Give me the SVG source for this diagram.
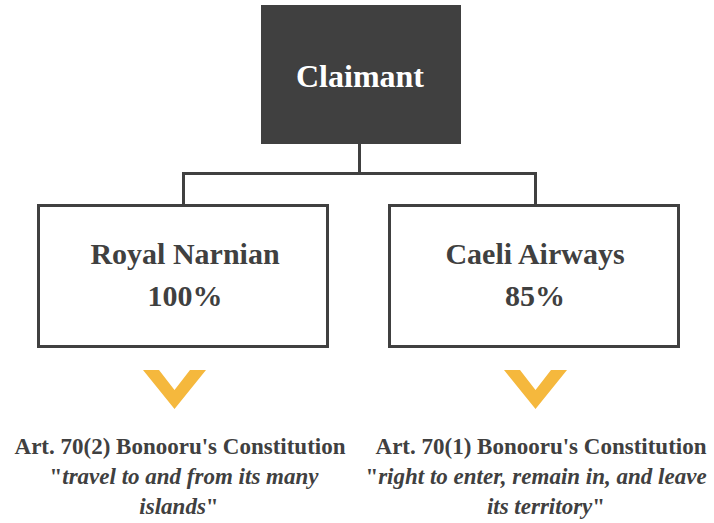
<svg xmlns="http://www.w3.org/2000/svg" width="714" height="523" viewBox="0 0 714 523">
<style>
.box{fill:#fff;stroke:#404040;stroke-width:3}
.conn{fill:none;stroke:#404040;stroke-width:3}
.t{font-family:"Liberation Serif","Times New Roman",serif;font-weight:bold;fill:#404040;text-anchor:middle}
.big{font-size:30px}
.small{font-size:23px}
.it{font-style:italic}
.chev{fill:#F5B83D}
</style>
<rect width="714" height="523" fill="#fff"/>
<g id="connectors">
<path class="conn" d="M359.5 144V173.5M183.5 204V173.5H535.5V204"/>
</g>
<g id="claimant">
<rect x="261" y="5" width="200" height="139" fill="#404040"/>
<text class="t" x="360" y="87" font-size="32" style="fill:#fff">Claimant</text>
</g>
<g id="royal-narnian">
<rect class="box" x="38.5" y="205.5" width="289" height="141"/>
<text class="t big" x="185" y="264">Royal Narnian</text>
<text class="t big" x="185" y="306">100%</text>
</g>
<g id="caeli-airways">
<rect class="box" x="389.5" y="205.5" width="289" height="141"/>
<text class="t big" x="535" y="264">Caeli Airways</text>
<text class="t big" x="535" y="306">85%</text>
</g>
<g id="chevron-left">
<polygon class="chev" points="143,370 159,370 174.5,390 190,370 206,370 174.5,409"/>
</g>
<g id="chevron-right">
<polygon class="chev" points="504,370 520,370 535.5,390 551,370 567,370 535.5,409"/>
</g>
<g id="article-left">
<text class="t small" x="180" y="454">Art. 70(2) Bonooru's Constitution</text>
<text class="t small" x="184" y="484">"<tspan class="it">travel to and from its many</tspan></text>
<text class="t small" x="179" y="514"><tspan class="it">islands</tspan>"</text>
</g>
<g id="article-right">
<text class="t small" x="541" y="454">Art. 70(1) Bonooru's Constitution</text>
<text class="t small" x="536" y="484">"<tspan class="it">right to enter, remain in, and leave</tspan></text>
<text class="t small" x="546" y="514"><tspan class="it">its territory</tspan>"</text>
</g>
</svg>
